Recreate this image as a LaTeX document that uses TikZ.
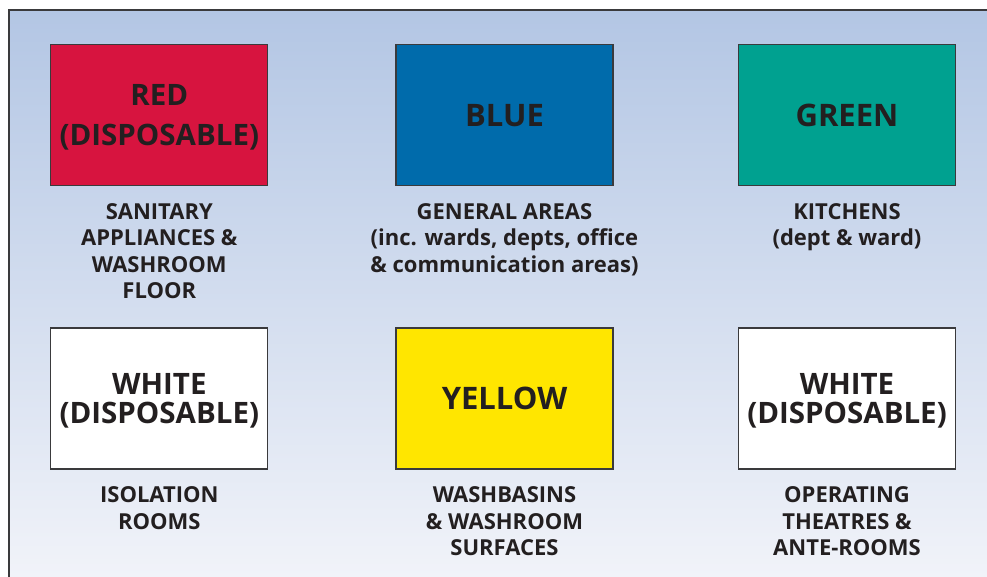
\documentclass[tikz,border=0pt]{standalone}
\usepackage{fontspec}
\setmainfont{Open Sans}
\usetikzlibrary{positioning}

\definecolor{ink}{HTML}{231F20}
\definecolor{edgegrey}{HTML}{3A3A3C}
\definecolor{bgtop}{HTML}{B3C6E4}
\definecolor{bgbot}{HTML}{F1F3F9}
\definecolor{mopred}{HTML}{D7143F}
\definecolor{mopblue}{HTML}{006BAB}
\definecolor{mopgreen}{HTML}{00A190}
\definecolor{mopyellow}{HTML}{FFE600}

\begin{document}
\begin{tikzpicture}[x=1pt, y=-1pt,
    swatch/.style={draw=edgegrey, line width=1.3pt, minimum width=217pt, minimum height=141pt,
        inner sep=0pt, align=center, text=ink, text depth=0pt},
    twoline/.style={font=\bfseries\fontsize{29.5}{28.5}\selectfont},
    oneword/.style={font=\bfseries\fontsize{31}{33}\selectfont},
    caption/.style={inner sep=0pt, align=center, text=ink, font=\bfseries\fontsize{22}{26.4}\selectfont}]
    \useasboundingbox (0,0) rectangle (987,577);

    % Draw the panel
    \shade[top color=bgtop, bottom color=bgbot] (9,10) rectangle (987,577);
    \draw[edgegrey, line width=1.3pt] (9,577) -- (9,10) -- (987,10);

    % Draw the top row of swatches
    \node[swatch, twoline, fill=mopred] (red) at (159.3,115) {RED\\[11.5pt](DISPOSABLE)};
    \node[swatch, oneword, fill=mopblue] (blue) at (504.5,115) {BLUE};
    \node[swatch, oneword, fill=mopgreen] (green) at (847,115) {GREEN};

    % Draw the bottom row of swatches
    \node[swatch, twoline, fill=white] (isowhite) at (159.3,398.5) {WHITE\\(DISPOSABLE)};
    \node[swatch, oneword, fill=mopyellow] (yellow) at (504.5,398.5) {YELLOW};
    \node[swatch, twoline, fill=white] (theatrewhite) at (847,398.5) {WHITE\\(DISPOSABLE)};

    % Draw where each colour is used
    \node[caption, below=17pt of red] (sanitary) {SANITARY\\APPLIANCES \&\\WASHROOM\\FLOOR};
    \node[caption, below=17pt of blue] (general) {GENERAL AREAS\\(inc. wards, depts, office\\\& communication areas)};
    \node[caption, below=17pt of green] (kitchens) {KITCHENS\\(dept \& ward)};

    \node[caption, below=17pt of isowhite] (isolation) {ISOLATION\\ROOMS};
    \node[caption, below=17pt of yellow] (washbasins) {WASHBASINS\\\& WASHROOM\\SURFACES};
    \node[caption, below=17pt of theatrewhite] (theatres) {OPERATING\\THEATRES \&\\ANTE-ROOMS};
\end{tikzpicture}
\end{document}
